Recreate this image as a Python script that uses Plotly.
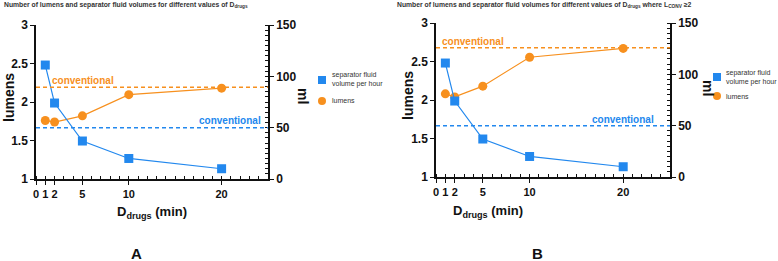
import plotly.graph_objects as go

# ---- data ----
d_drugs = [1, 2, 5, 10, 20]
sep_fluid_ml = [111, 74, 37, 20, 10]            # same in both panels
lumens_A = [1.76, 1.74, 1.82, 2.095, 2.18]
lumens_B = [2.08, 2.04, 2.18, 2.555, 2.67]
conv_lumens_A = 2.19
conv_lumens_B = 2.68
conv_ml = 50
x_tickvals = [0, 1, 2, 5, 10, 20]
x_ticktext = ["0", "1", "2", "5", "10", "20"]
yl_tickvals = [1, 1.5, 2, 2.5, 3]
yl_ticktext = ["1", "1.5", "2", "2.5", "3"]
yr_tickvals = [0, 50, 100, 150]
legend_names = ["separator fluid<br>volume per hour", "lumens"]
titles = [
    "Number of lumens and separator fluid volumes for different values of D<sub>drugs</sub>",
    "Number of lumens and separator fluid volumes for different values of D<sub>drugs</sub> where L<sub>CONV</sub> \u22652",
]
panel_labels = ["A", "B"]

BLUE = "#2288ee"
ORANGE = "#f7901e"
W, H = 778, 261

def px(x):
    return x / W

def py(y):
    return 1 - y / H

fig = go.Figure()

panels = [
    dict(lum=lumens_A, conv=conv_lumens_A, xd=[px(36), px(268)], yd=[py(179), py(25)],
         xa="x", ya="y", ya2="y2",
         title_xy=(2, 5), xtitle_xy=(152, 212), label_xy=(136, 253),
         ml_xy=(303, 96), lum_xy=(9, 98),
         conv_o=(50, 81), conv_b=(263, 120),
         leg_sq=(322, 80), leg_ci=(322, 101), leg_tx=330),
    dict(lum=lumens_B, conv=conv_lumens_B, xd=[px(436), px(670)], yd=[py(177), py(23)],
         xa="x2", ya="y3", ya2="y4",
         title_xy=(395, 5), xtitle_xy=(488, 211), label_xy=(537, 253),
         ml_xy=(708, 88), lum_xy=(408, 96),
         conv_o=(440, 41), conv_b=(656, 119),
         leg_sq=(717, 77), leg_ci=(717, 96), leg_tx=724),
]

FAM = "Liberation Sans, Arial, sans-serif"
axis_font = dict(family=FAM, size=11, color="#111", weight="bold")

for i, p in enumerate(panels):
    xa, ya, ya2 = p["xa"], p["ya"], p["ya2"]
    xkey = "xaxis" if xa == "x" else "xaxis" + xa[1:]
    ykey = "yaxis" if ya == "y" else "yaxis" + ya[1:]
    y2key = "yaxis" + ya2[1:]

    fig.add_trace(go.Scatter(x=d_drugs, y=p["lum"], mode="lines+markers", xaxis=xa, yaxis=ya,
                             line=dict(color=ORANGE, width=1.2),
                             marker=dict(color=ORANGE, size=9, symbol="circle"),
                             name="lumens", showlegend=False))
    fig.add_trace(go.Scatter(x=d_drugs, y=sep_fluid_ml, mode="lines+markers", xaxis=xa, yaxis=ya2,
                             line=dict(color=BLUE, width=1.2),
                             marker=dict(color=BLUE, size=9, symbol="square"),
                             name="separator fluid volume per hour", showlegend=False))

    fig.update_layout(**{
        xkey: dict(domain=p["xd"], range=[0, 25], anchor=ya, tickmode="array",
                   tickvals=x_tickvals, ticktext=x_ticktext, ticks="outside", ticklen=4,
                   tickwidth=1.2, tickcolor="#111", showline=True, linecolor="#111", linewidth=1.5,
                   showgrid=False, zeroline=False, tickfont=axis_font, automargin=False,
                   minor=dict(dtick=1, tick0=0, ticks="inside", ticklen=3, tickcolor="#111",
                              showgrid=False)),
        ykey: dict(domain=p["yd"], range=[1, 3], anchor=xa, tickmode="array",
                   tickvals=yl_tickvals, ticktext=yl_ticktext, ticks="outside", ticklen=4,
                   tickwidth=1.2, tickcolor="#111", showline=True, linecolor="#111", linewidth=1.5,
                   showgrid=False, zeroline=False, tickfont=dict(axis_font, size=12), automargin=False),
        y2key: dict(domain=p["yd"], range=[0, 150], anchor=xa, overlaying=ya, side="right",
                    tickmode="array", tickvals=yr_tickvals, ticks="outside", ticklen=4,
                    tickwidth=1.2, tickcolor="#111", showline=True, linecolor="#111", linewidth=1.5,
                    showgrid=False, zeroline=False, tickfont=dict(axis_font, size=12), automargin=False,
                    minor=dict(dtick=5, tick0=0, ticks="inside", ticklen=3, tickcolor="#111",
                               showgrid=False)),
    })

    # conventional lines
    fig.add_shape(type="line", xref=f"{xa} domain", yref=ya, x0=0, x1=1, y0=p["conv"], y1=p["conv"],
                  line=dict(color=ORANGE, width=1.5, dash="4px,3px"))
    fig.add_shape(type="line", xref=f"{xa} domain", yref=ya2, x0=0, x1=1, y0=conv_ml, y1=conv_ml,
                  line=dict(color=BLUE, width=1.5, dash="4px,3px"))

    # legend (drawn manually to match compact spacing)
    sx, sy = p["leg_sq"]
    fig.add_shape(type="rect", xref="paper", yref="paper",
                  x0=px(sx - 4), x1=px(sx + 4), y0=py(sy + 4), y1=py(sy - 4),
                  fillcolor=BLUE, line=dict(width=0))
    cx, cy = p["leg_ci"]
    fig.add_shape(type="circle", xref="paper", yref="paper",
                  x0=px(cx - 4), x1=px(cx + 4), y0=py(cy + 4), y1=py(cy - 4),
                  fillcolor=ORANGE, line=dict(width=0))
    leg_font = dict(family=FAM, size=7, color="#333")
    fig.add_annotation(xref="paper", yref="paper", x=px(p["leg_tx"]), y=py(sy), xanchor="left",
                       yanchor="middle", align="left", showarrow=False, text=legend_names[0],
                       font=leg_font)
    fig.add_annotation(xref="paper", yref="paper", x=px(p["leg_tx"]), y=py(cy), xanchor="left",
                       yanchor="middle", align="left", showarrow=False, text=legend_names[1],
                       font=leg_font)

    ann_font = dict(family=FAM, weight="bold")
    fig.add_annotation(xref="paper", yref="paper", x=px(p["conv_o"][0]), y=py(p["conv_o"][1]),
                       xanchor="left", yanchor="middle", showarrow=False, text="conventional",
                       font=dict(ann_font, size=10, color=ORANGE))
    fig.add_annotation(xref="paper", yref="paper", x=px(p["conv_b"][0]), y=py(p["conv_b"][1]),
                       xanchor="right", yanchor="middle", showarrow=False, text="conventional",
                       font=dict(ann_font, size=10, color=BLUE))
    fig.add_annotation(xref="paper", yref="paper", x=px(p["title_xy"][0]), y=py(p["title_xy"][1]),
                       xanchor="left", yanchor="middle", showarrow=False, text=titles[i],
                       font=dict(ann_font, size=6.8, color="#333"))
    fig.add_annotation(xref="paper", yref="paper", x=px(p["xtitle_xy"][0]), y=py(p["xtitle_xy"][1]),
                       xanchor="center", yanchor="middle", showarrow=False, text="D<sub>drugs</sub> (min)",
                       font=dict(ann_font, size=13, color="#111"))
    fig.add_annotation(xref="paper", yref="paper", x=px(p["label_xy"][0]), y=py(p["label_xy"][1]),
                       xanchor="center", yanchor="middle", showarrow=False, text=panel_labels[i],
                       font=dict(ann_font, size=15, color="#111"))
    fig.add_annotation(xref="paper", yref="paper", x=px(p["lum_xy"][0]), y=py(p["lum_xy"][1]),
                       xanchor="center", yanchor="middle", showarrow=False, text="lumens", textangle=-90,
                       font=dict(ann_font, size=14, color="#111"))
    fig.add_annotation(xref="paper", yref="paper", x=px(p["ml_xy"][0]), y=py(p["ml_xy"][1]),
                       xanchor="center", yanchor="middle", showarrow=False, text="ml", textangle=90,
                       font=dict(ann_font, size=14, color="#111"))

fig.update_layout(width=W, height=H, margin=dict(l=0, r=0, t=0, b=0, autoexpand=False),
                  paper_bgcolor="white", plot_bgcolor="white", showlegend=False)

fig.write_html("out.html", config={"displayModeBar": False},
               post_script="document.body.style.margin='0';document.body.style.overflow='hidden';")
